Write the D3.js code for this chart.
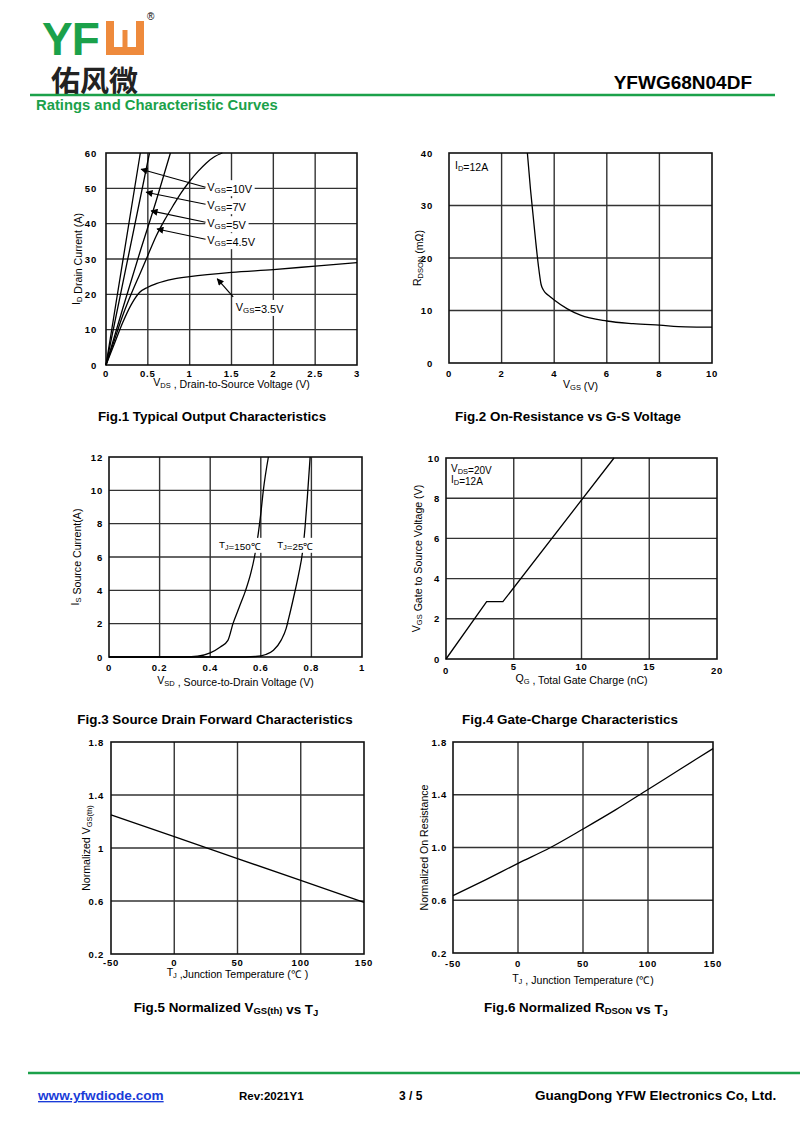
<!DOCTYPE html>
<html>
<head>
<meta charset="utf-8">
<script src="https://cdn.jsdelivr.net/npm/d3@7"></script>
<style>
  body { margin: 0; background: #fff; }
  svg { display: block; font-family: "Liberation Sans", Arial, sans-serif; }
</style>
</head>
<body>
<svg id="page" width="800" height="1133"></svg>
<script>
// ---- Fig.1 output characteristics (VDS V, ID A)
const vgs10 = [[0, 0], [0.2, 29.3], [0.41, 60]];
const vgs7 = [[0, 0], [0.25, 28.8], [0.52, 60]];
const vgs5 = [[0, 0], [0.2, 16], [0.4, 31.5], [0.6, 46.5], [0.77, 60]];
const vgs45 = [[0, 0], [0.1, 7], [0.2, 14], [0.3, 20], [0.4, 25.5], [0.5, 31], [0.6, 36.5], [0.7, 41], [0.8, 45], [0.9, 48.8], [1.0, 52], [1.1, 54.8], [1.2, 57.2], [1.3, 59], [1.39, 60]];
const vgs35 = [[0, 0], [0.1, 6], [0.2, 12], [0.3, 17], [0.4, 20.5], [0.5, 22], [0.6, 23], [0.8, 24.3], [1.0, 25], [1.5, 26.2], [2.0, 27], [2.5, 28], [3.0, 29]];
const fig1Labels = ["10V", "7V", "5V", "4.5V", "3.5V"];
// label position, arrow start, arrow tip (data units)
const fig1LabelPos = [[1.21, 49.2], [1.21, 44.1], [1.21, 39], [1.21, 34.2], [1.55, 15.3]];
const fig1ArrowFrom = [[1.19, 50.3], [1.19, 45.5], [1.19, 40.4], [1.19, 35.6], [1.52, 19.3]];
const fig1ArrowTo = [[0.42, 55.4], [0.48, 48.9], [0.54, 43.6], [0.61, 38.5], [1.33, 24.4]];

// ---- Fig.2 RDSON vs VGS
const rdsonCurve = [[2.98, 40], [3.1, 33], [3.2, 28], [3.3, 23], [3.4, 18.5], [3.5, 15], [3.6, 13.8], [3.8, 12.8], [4, 12], [4.5, 10.3], [5, 9.1], [6, 8.0], [7, 7.5], [8, 7.2], [9, 6.9], [10, 6.85]];

// ---- Fig.3 body diode forward
const tj150 = [[0, 0], [0.3, 0], [0.35, 0.05], [0.4, 0.25], [0.44, 0.6], [0.47, 1.0], [0.49, 2.0], [0.515, 3.0], [0.54, 4.0], [0.56, 5.0], [0.575, 6.0], [0.59, 7.4], [0.6, 8.6], [0.61, 10], [0.63, 12]];
const tj25 = [[0, 0], [0.5, 0], [0.58, 0.03], [0.62, 0.15], [0.65, 0.4], [0.68, 1.0], [0.7, 1.7], [0.71, 2.3], [0.73, 3.6], [0.75, 5.0], [0.765, 6.3], [0.775, 7.8], [0.785, 9.8], [0.795, 12]];

// ---- Fig.4 gate charge
const gateCharge = [[0, 0], [3.0, 2.85], [4.2, 2.85], [12.4, 10]];

// ---- Fig.5 / Fig.6 vs temperature
const vthNorm = [[-50, 1.25], [0, 1.085], [50, 0.92], [100, 0.755], [150, 0.59]];
const rdsNorm = [[-50, 0.635], [-25, 0.755], [0, 0.88], [25, 1.0], [50, 1.14], [75, 1.285], [100, 1.44], [125, 1.595], [150, 1.75]];

const GREEN = "#1ba14a";
const svg = d3.select("#page");

// text with subscripts: parts = [[str, isSub], ...]
function rich(sel, parts, subSize) {
    parts.forEach(p => {
        const t = sel.append("tspan").text(p[0]);
        if (p[1]) {
            t.attr("dy", 2).style("font-size", subSize + "px");
            sel.append("tspan").attr("dy", -2).text("");
        }
    });
    return sel;
}

function plotPanel(box, xDom, yDom, xTicks, yTicks, opt) {
    const x = d3.scaleLinear().domain(xDom).range([box.l, box.r]);
    const y = d3.scaleLinear().domain(yDom).range([box.b, box.t]);
    const g = svg.append("g");

    g.selectAll(null).data(xTicks.slice(1, -1)).enter().append("line")
        .attr("x1", d => x(d)).attr("x2", d => x(d))
        .attr("y1", box.t).attr("y2", box.b)
        .attr("stroke", "#333").attr("stroke-width", 1.4);
    g.selectAll(null).data(yTicks.slice(1, -1)).enter().append("line")
        .attr("y1", d => y(d)).attr("y2", d => y(d))
        .attr("x1", box.l).attr("x2", box.r)
        .attr("stroke", "#333").attr("stroke-width", 1.4);
    g.append("rect")
        .attr("x", box.l).attr("y", box.t)
        .attr("width", box.r - box.l).attr("height", box.b - box.t)
        .attr("fill", "none").attr("stroke", "#111").attr("stroke-width", 1.6);

    // tick labels
    g.selectAll(null).data(xTicks).enter().append("text")
        .attr("x", d => x(d))
        .attr("y", (d, i) => opt.xTickY + (opt.xTickDy ? opt.xTickDy(d, i) : 0))
        .attr("text-anchor", "middle")
        .style("font-size", "9.5px").style("font-weight", "bold").style("letter-spacing", "0.8px")
        .text(opt.xFmt || (d => d));
    g.selectAll(null).data(yTicks).enter().append("text")
        .attr("x", opt.yTickX)
        .attr("y", d => y(d) + 3.5)
        .attr("text-anchor", "end")
        .style("font-size", "9.5px").style("font-weight", "bold").style("letter-spacing", "0.8px")
        .text(opt.yFmt || (d => d));

    // axis titles
    rich(g.append("text")
        .attr("x", (box.l + box.r) / 2).attr("y", opt.xTitleY)
        .attr("text-anchor", "middle").style("font-size", "10.6px"), opt.xTitle, 7.5);
    rich(g.append("text")
        .attr("transform", `translate(${opt.yTitleX}, ${(box.t + box.b) / 2}) rotate(-90)`)
        .attr("text-anchor", "middle").style("font-size", "10.6px"), opt.yTitle, 7.5);

    // figure caption
    rich(g.append("text")
        .attr("x", opt.capX).attr("y", opt.capY)
        .attr("text-anchor", "middle")
        .style("font-size", "13.4px").style("font-weight", "bold"), opt.caption, 9.5);

    return { g: g, x: x, y: y };
}

function drawCurve(p, data, curve) {
    const line = d3.line().x(d => p.x(d[0])).y(d => p.y(d[1])).curve(curve || d3.curveMonotoneX);
    p.g.append("path").datum(data)
        .attr("d", line)
        .attr("fill", "none").attr("stroke", "#000").attr("stroke-width", 1.3);
}

function label(p, xv, yv, parts, size) {
    const t = rich(p.g.append("text").attr("x", p.x(xv)).attr("y", p.y(yv))
        .style("font-size", size + "px"), parts, size * 0.72);
    const bb = t.node().getBBox();
    p.g.insert("rect", function () { return t.node(); })
        .attr("x", bb.x - 2).attr("y", bb.y - 1)
        .attr("width", bb.width + 4).attr("height", bb.height + 2)
        .attr("fill", "#fff");
    return t;
}

// ---------- header
const logo = svg.append("g");
logo.append("text").attr("x", 42).attr("y", 55)
    .style("font-size", "46px").style("font-weight", "bold").style("letter-spacing", "-1px")
    .attr("fill", GREEN).text("YF");
// orange "W" block
logo.append("path")
    .attr("d", "M106,21 h8 v26 h8.5 v-17 h5 v17 h8.5 v-26 h8 v34 h-38 z")
    .attr("fill", "#ee8a3c");
logo.append("text").attr("x", 147).attr("y", 20).style("font-size", "10px").text("®");
logo.append("text").attr("x", 51).attr("y", 92)
    .style("font-family", "'Noto Sans CJK SC'").style("font-size", "29px").style("font-weight", "bold")
    .attr("fill", "#222").text("佑风微");

svg.append("text").attr("x", 752).attr("y", 89).attr("text-anchor", "end")
    .style("font-size", "19px").style("font-weight", "bold").text("YFWG68N04DF");
svg.append("line").attr("x1", 30).attr("x2", 775).attr("y1", 95).attr("y2", 95)
    .attr("stroke", GREEN).attr("stroke-width", 2.5);
svg.append("text").attr("x", 36).attr("y", 110)
    .style("font-size", "14.8px").style("font-weight", "bold").attr("fill", GREEN)
    .text("Ratings and Characteristic Curves");

// ---------- Fig.1
const p1 = plotPanel({ l: 106, r: 357, t: 153, b: 365 }, [0, 3], [0, 60],
    d3.range(0, 3.01, 0.5), d3.range(0, 61, 10), {
        xTickY: 377, yTickX: 97, xTitleY: 386, yTitleX: 80,
        xTitle: [["V"], ["DS", 1], [" , Drain-to-Source  Voltage (V)"]],
        yTitle: [["I"], ["D", 1], [" Drain Current (A)"]],
        capX: 212, capY: 421,
        caption: [["Fig.1 Typical Output Characteristics"]]
    });
[vgs10, vgs7, vgs5, vgs45, vgs35].forEach(s => drawCurve(p1, s));

svg.append("defs").append("marker")
    .attr("id", "arr").attr("viewBox", "0 0 10 10")
    .attr("refX", 9).attr("refY", 5)
    .attr("markerWidth", 9).attr("markerHeight", 7).attr("markerUnits", "userSpaceOnUse")
    .attr("orient", "auto")
    .append("path").attr("d", "M0,0 L10,5 L0,10 z").attr("fill", "#000");

fig1Labels.forEach((lab, i) => {
    label(p1, fig1LabelPos[i][0], fig1LabelPos[i][1], [["V"], ["GS", 1], ["=" + lab]], 11);
    p1.g.append("line")
        .attr("x1", p1.x(fig1ArrowFrom[i][0])).attr("y1", p1.y(fig1ArrowFrom[i][1]))
        .attr("x2", p1.x(fig1ArrowTo[i][0])).attr("y2", p1.y(fig1ArrowTo[i][1]))
        .attr("stroke", "#000").attr("stroke-width", 1.2)
        .attr("marker-end", "url(#arr)");
});

// ---------- Fig.2
const p2 = plotPanel({ l: 449, r: 712, t: 153, b: 363 }, [0, 10], [0, 40],
    d3.range(0, 11, 2), d3.range(0, 41, 10), {
        xTickY: 377, yTickX: 433, xTitleY: 388, yTitleX: 421,
        xTitle: [["V"], ["GS", 1], [" (V)"]],
        yTitle: [["R"], ["DSON", 1], [" (mΩ)"]],
        capX: 568, capY: 421,
        caption: [["Fig.2 On-Resistance vs G-S Voltage"]]
    });
drawCurve(p2, rdsonCurve);
rich(p2.g.append("text").attr("x", 455).attr("y", 169).style("font-size", "10.5px"),
    [["I"], ["D", 1], ["=12A"]], 7.5);

// ---------- Fig.3
const p3 = plotPanel({ l: 109, r: 362, t: 457, b: 657 }, [0, 1], [0, 12],
    d3.range(0, 1.01, 0.2), d3.range(0, 13, 2), {
        xTickY: 671, yTickX: 103, xTitleY: 684, yTitleX: 79,
        xFmt: d => d === 0 || d > 0.99 ? d3.format("d")(d) : d3.format(".1f")(d),
        xTitle: [["V"], ["SD", 1], [" , Source-to-Drain Voltage (V)"]],
        yTitle: [["I"], ["S", 1], [" Source Current(A)"]],
        capX: 215, capY: 724,
        caption: [["Fig.3 Source Drain Forward Characteristics"]]
    });
drawCurve(p3, tj150);
drawCurve(p3, tj25);
label(p3, 0.435, 6.55, [["T"], ["J", 1], ["=150℃"]], 9.8);
label(p3, 0.665, 6.55, [["T"], ["J", 1], ["=25℃"]], 9.8);

// ---------- Fig.4
const p4 = plotPanel({ l: 446, r: 717, t: 458, b: 659 }, [0, 20], [0, 10],
    d3.range(0, 21, 5), d3.range(0, 11, 2), {
        xTickY: 674, yTickX: 440, xTitleY: 682, yTitleX: 420,
        xTickDy: (d, i) => (d > 0 && d < 20 ? -4 : 0),
        xTitle: [["Q"], ["G", 1], [" , Total Gate Charge  (nC)"]],
        yTitle: [["V"], ["GS", 1], ["  Gate to Source Voltage (V)"]],
        capX: 570, capY: 724,
        caption: [["Fig.4 Gate-Charge Characteristics"]]
    });
drawCurve(p4, gateCharge, d3.curveLinear);
rich(p4.g.append("text").attr("x", 451).attr("y", 472).style("font-size", "10px"),
    [["V"], ["DS", 1], ["=20V"]], 7.5);
rich(p4.g.append("text").attr("x", 451).attr("y", 483).style("font-size", "10px"),
    [["I"], ["D", 1], ["=12A"]], 7.5);

// ---------- Fig.5
const p5 = plotPanel({ l: 111, r: 364, t: 742, b: 954 }, [-50, 150], [0.2, 1.8],
    d3.range(-50, 151, 50), [0.2, 0.6, 1, 1.4, 1.8], {
        xTickY: 966, yTickX: 104, xTitleY: 976, yTitleX: 90,
        xTitle: [["T"], ["J", 1], [" ,Junction Temperature (℃ )"]],
        yTitle: [["Normalized V"], ["GS(th)", 1]],
        capX: 226, capY: 1012,
        caption: [["Fig.5 Normalized V"], ["GS(th)", 1], [" vs T"], ["J", 1]]
    });
drawCurve(p5, vthNorm, d3.curveLinear);

// ---------- Fig.6
const p6 = plotPanel({ l: 453, r: 713, t: 742, b: 953 }, [-50, 150], [0.2, 1.8],
    d3.range(-50, 151, 50), [0.2, 0.6, 1.0, 1.4, 1.8], {
        xTickY: 967, yTickX: 447, xTitleY: 982, yTitleX: 428,
        yFmt: d3.format(".1f"),
        xTitle: [["T"], ["J", 1], [" , Junction Temperature (℃)"]],
        yTitle: [["Normalized On Resistance"]],
        capX: 576, capY: 1012,
        caption: [["Fig.6 Normalized R"], ["DSON", 1], [" vs T"], ["J", 1]]
    });
drawCurve(p6, rdsNorm);

// ---------- footer
svg.append("line").attr("x1", 28).attr("x2", 800).attr("y1", 1073).attr("y2", 1073)
    .attr("stroke", GREEN).attr("stroke-width", 2.5);
const foot = svg.append("g").style("font-weight", "bold");
foot.append("text").attr("x", 38).attr("y", 1100).attr("fill", "#1a3cd8")
    .style("font-size", "13.6px").style("text-decoration", "underline").text("www.yfwdiode.com");
foot.append("text").attr("x", 239).attr("y", 1100).style("font-size", "11.5px").text("Rev:2021Y1");
foot.append("text").attr("x", 399).attr("y", 1100).style("font-size", "12px")
    .attr("xml:space", "preserve").text("3 / 5");
foot.append("text").attr("x", 535).attr("y", 1100).style("font-size", "13.5px").text("GuangDong YFW Electronics Co, Ltd.");
</script>
</body>
</html>
